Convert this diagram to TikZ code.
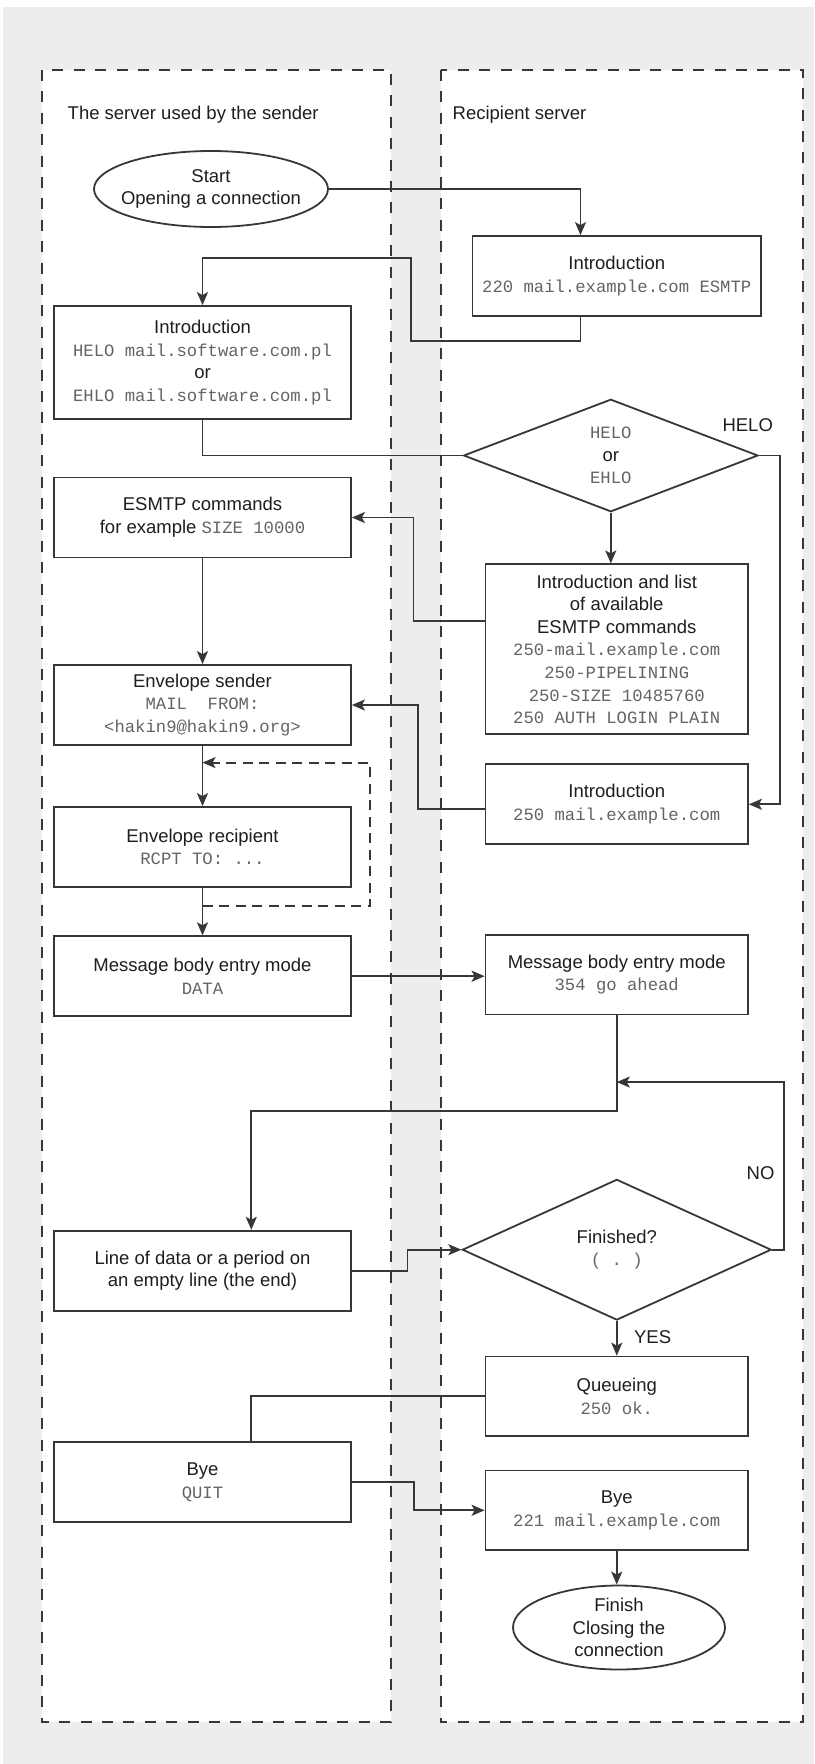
\documentclass[tikz,border=0pt]{standalone}
\usepackage{fontspec}
\setmainfont{Liberation Sans}
\setmonofont{Liberation Mono}
\usetikzlibrary{arrows.meta,shapes.geometric}

\definecolor{pagegray}{RGB}{236,237,239}
\definecolor{linecol}{RGB}{55,55,55}
\definecolor{textcol}{RGB}{30,30,30}
\definecolor{codegray}{RGB}{100,100,100}

% protocol text in the boxes
\newcommand{\smtp}[1]{{\fontsize{17.25}{22.6}\selectfont\ttfamily\color{codegray}#1}}

\tikzset{
  lane/.style={draw=linecol, line width=1.8pt, fill=white, dash pattern=on 11pt off 10.4pt},
  stepbox/.style={draw=linecol, line width=1.8pt, fill=white, rectangle, inner sep=0pt,
    align=center, text=textcol},
  lbox/.style={stepbox, minimum width=297pt, minimum height=80pt},
  rbox/.style={stepbox, minimum width=262.5pt, minimum height=79.5pt},
  terminal/.style={draw=linecol, line width=1.8pt, fill=white, ellipse, inner sep=0pt,
    align=center, text=textcol},
  decision/.style={draw=linecol, line width=1.8pt, fill=white, diamond, inner sep=0pt,
    align=center, text=textcol},
  conn/.style={draw=linecol, line width=1.8pt},
  arr/.style={conn, -{Stealth[length=13pt,width=11pt,inset=3pt]}},
  loopback/.style={arr, dash pattern=on 10pt off 6.5pt},
  lanetitle/.style={anchor=west, text=textcol, inner sep=0pt},
  branch/.style={text=textcol, inner sep=0pt},
}

\begin{document}
\begin{tikzpicture}[x=1pt, y=-1pt, font=\fontsize{18.5}{22.6}\selectfont]
\useasboundingbox (0,0) rectangle (814,1764);
\fill[white] (0,0) rectangle (814,1764);
\fill[pagegray] (3.3,7.3) rectangle (814,1764);

% the two swimlanes
\path[lane] (42.3,70) rectangle (390.7,1722.3);
\path[lane] (440.7,70) rectangle (803.3,1722.3);
\node[lanetitle] (senderlane) at (67.5,115) {The server used by the sender};
\node[lanetitle] (recvlane) at (452.5,115) {Recipient server};

% sender side
\node[terminal, inner xsep=-7.5pt, minimum width=234pt, minimum height=76pt] (start) at (211,189)
  {Start\\Opening a connection};
\node[lbox, minimum height=113pt] (l1) at (202.5,362.5)
  {Introduction\\\smtp{HELO mail.software.com.pl}\\or\\\smtp{EHLO mail.software.com.pl}};
\node[lbox] (l2) at (202.5,517.5) {ESMTP commands\\for example \smtp{SIZE 10000}};
\node[lbox] (l3) at (202.5,705) {Envelope sender\\\smtp{MAIL~~FROM:}\\\smtp{<hakin9@hakin9.org>}};
\node[lbox] (l4) at (202.5,847) {Envelope recipient\\\smtp{RCPT TO: ...}};
\node[lbox] (l5) at (202.5,976.2) {Message body entry mode\\\smtp{DATA}};
\node[lbox] (l6) at (202.5,1270.7) {Line of data or a period on\\an empty line (the end)};
\node[lbox] (l7) at (202.5,1482.2) {Bye\\\smtp{QUIT}};

% recipient side
\node[rbox, minimum width=288.5pt, minimum height=80pt] (r1) at (616.75,276)
  {Introduction\\\smtp{220 mail.example.com ESMTP}};
\node[decision, minimum width=294.5pt, minimum height=112.5pt] (d1) at (610.8,455.5)
  {\smtp{HELO}\\or\\\smtp{EHLO}};
\node[rbox, minimum height=169.7pt] (r2) at (616.75,649.2)
  {Introduction and list\\of available\\ESMTP commands\\\smtp{250-mail.example.com}\\
   \smtp{250-PIPELINING}\\\smtp{250-SIZE 10485760}\\\smtp{250 AUTH LOGIN PLAIN}};
\node[rbox, minimum height=80pt] (r3) at (616.75,804.3) {Introduction\\\smtp{250 mail.example.com}};
\node[rbox] (r4) at (616.75,974.7) {Message body entry mode\\\smtp{354 go ahead}};
\node[decision, minimum width=309pt, minimum height=140.7pt] (d2) at (616.8,1249.7)
  {Finished?\\\smtp{( . )}};
\node[rbox] (r5) at (616.75,1396.3) {Queueing\\\smtp{250 ok.}};
\node[rbox] (r6) at (616.75,1510.3) {Bye\\\smtp{221 mail.example.com}};
\node[terminal, minimum width=212pt, minimum height=84pt] (finish) at (619,1627.5)
  {Finish\\Closing the\\connection};

% branch labels
\node[branch] (helo) at (747.7,425) {HELO};
\node[branch] (no) at (760.6,1173.3) {NO};
\node[branch] (yes) at (652.6,1336.7) {YES};

% helper points for the connectors
\coordinate (r1out) at ([xshift=-36.25pt]r1.south);
\coordinate (loopin) at ([yshift=-16.7pt]l3.south);
\coordinate (loopout) at ([yshift=-18.3pt]l4.south);
\coordinate (nojoin) at ([yshift=-66.7pt]r4.south);

% connectors
\draw[arr] (start.east) -| ([xshift=-36.25pt]r1.north);
\draw[arr] (r1out) -- ++(0,24) -| (411,257.7) -| (l1.north);
\draw[conn] (l1.south) |- (d1.west);
\draw[arr] (d1.east) -- ++(21,0) |- (r3.east);
\draw[arr] (d1.south) -- (d1.south |- r2.north);
\draw[arr] ([yshift=28pt]r2.west) -- ++(-71.2,0) |- (l2.east);
\draw[arr] (l2.south) -- (l3.north);
\draw[arr] ([yshift=-5pt]r3.west) -- ++(-67,0) |- (l3.east);
\draw[arr] (l3.south) -- (l4.north);
\draw[loopback] (loopout) -- ++(167.8,0) |- (loopin);
\draw[arr] (l4.south) -- (l5.north);
\draw[arr] (l5.east) -- (l5.east -| r4.west);
\draw[arr] (r4.south) -- ++(0,95.7) -| ([xshift=48.8pt]l6.north);
\draw[arr] (d2.east) -- ++(11.5,0) |- (nojoin);
\draw[arr] (l6.east) -- ++(55.5,0) |- (d2.west);
\draw[arr] (d2.south) -- (d2.south |- r5.north);
\draw[conn] (r5.west) -| ([xshift=48.8pt]l7.north);
\draw[arr] (l7.east) -- ++(62,0) |- (r6.west);
\draw[arr] (r6.south) -- (r6.south |- finish.north);
\end{tikzpicture}
\end{document}
